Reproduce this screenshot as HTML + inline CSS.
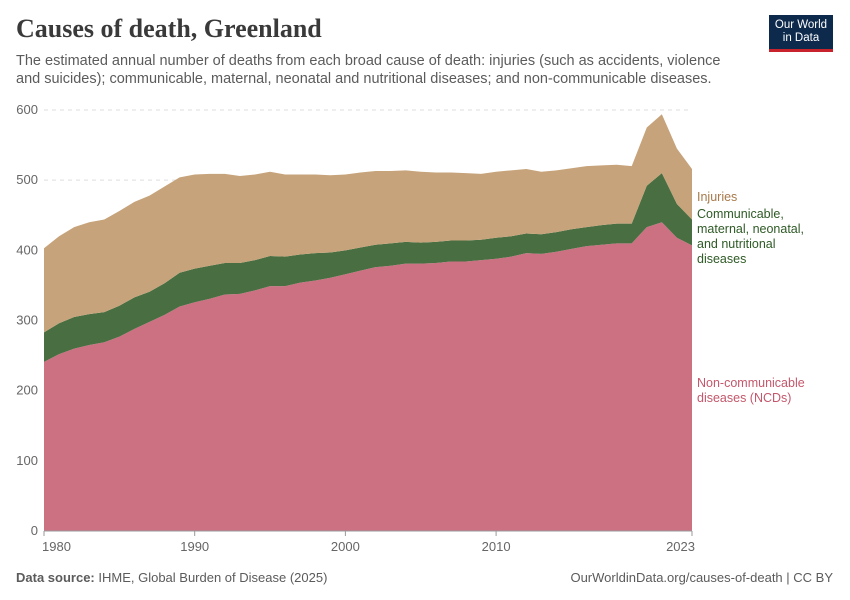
<!DOCTYPE html>
<html><head><meta charset="utf-8">
<style>
body{margin:0;background:#fff;font-family:"Liberation Sans",sans-serif;}
#wrap{position:relative;width:850px;height:600px;overflow:hidden;}
.title{position:absolute;left:16px;top:14px;font-family:"Liberation Serif",serif;font-size:26px;color:#3a3a3a;font-weight:bold;}
.sub{position:absolute;left:16px;top:52px;width:720px;font-size:14.5px;line-height:18px;color:#5b5b5b;}
.logo{position:absolute;left:769px;top:15px;width:64px;height:37px;background:#0d2a4d;color:#fff;font-size:11.5px;text-align:center;line-height:13px;padding-top:4px;box-sizing:border-box;border-bottom:3px solid #c8232c;}
.foot{position:absolute;top:570px;font-size:13px;color:#5b5b5b;}
</style></head><body>
<div id="wrap">
<div class="title">Causes of death, Greenland</div>
<div class="sub">The estimated annual number of deaths from each broad cause of death: injuries (such as accidents, violence and suicides); communicable, maternal, neonatal and nutritional diseases; and non-communicable diseases.</div>
<div class="logo">Our World<br>in Data</div>
<svg id="chart" width="850" height="600" style="position:absolute;left:0;top:0"></svg>
<div class="foot" style="left:16px"><b>Data source:</b> IHME, Global Burden of Disease (2025)</div>
<div class="foot" style="right:17px">OurWorldinData.org/causes-of-death | CC BY</div>
</div>
<script>
const years=[];for(let y=1980;y<=2023;y++)years.push(y);
const ncd=[241,252,260,265,269,277,288,298,308,320,326,331,337,338,343,349,349,354,357,361,366,371,376,378,381,381,382,384,384,386,388,391,396,395,398,402,406,408,410,410,433,440,418,407];
const comm=[42,44,45,44,43,44,45,43,45,48,48,47,45,44,43,43,42,40,39,36,34,33,32,32,31,30,30,30,30,29,30,29,28,28,28,28,27,28,28,28,59,70,48,37];
const inj=[120,124,128,131,132,135,136,137,138,136,134,131,127,124,122,120,117,114,112,110,108,107,105,103,102,101,99,97,96,94,94,94,92,89,88,87,87,85,84,82,83,84,79,72];
const yTicks=[0,100,200,300,400,500,600];
const xTicks=[1980,1990,2000,2010,2023];
const NS="http://www.w3.org/2000/svg";
const svg=document.getElementById('chart');
const x0=44,x1=692,yb=531,yt=110;
const X=y=>x0+(y-1980)*(x1-x0)/43;
const Y=v=>yb-v*(yb-yt)/600;
function mk(t,a){const e=document.createElementNS(NS,t);for(const k in a)e.setAttribute(k,a[k]);svg.appendChild(e);return e;}
yTicks.forEach(v=>{
  const l=mk('line',{x1:x0,x2:x1,y1:Y(v),y2:Y(v),stroke:'#ddd','stroke-dasharray':v?'4,4':'none'});
  
  
  const t=mk('text',{x:38,y:Y(v)+4,'text-anchor':'end','font-size':13,fill:'#666'});t.textContent=v;
  
  
});
const layers=[{d:ncd,c:'#cc7182',n:'area-ncds'},{d:comm,c:'#486e41',n:'area-communicable'},{d:inj,c:'#c6a37a',n:'area-injuries'}];
let base=years.map(()=>0);
layers.forEach(L=>{
  const top=base.map((b,i)=>b+L.d[i]);
  let p=years.map((y,i)=>(i?'L':'M')+X(y)+','+Y(top[i])).join('');
  for(let i=years.length-1;i>=0;i--)p+='L'+X(years[i])+','+Y(base[i]);
  const e=mk('path',{d:p+'Z',fill:L.c});
  
  
  base=top;
});
const ax=mk('line',{x1:x0,x2:x1,y1:yb,y2:yb,stroke:'#999'});


xTicks.forEach(y=>{
  const tk=mk('line',{x1:X(y),x2:X(y),y1:yb,y2:yb+5,stroke:'#999'});
  
  
  const t=mk('text',{x:X(y),y:551,'text-anchor':y===1980?'start':(y===2023?'end':'middle'),'font-size':13,fill:'#666'});t.textContent=y;
  if(y===1980)t.setAttribute('x',X(y)-2);
  if(y===2023)t.setAttribute('x',X(y)+3);
  
  
});
const labels=[{l:['Injuries'],y:201,c:'#a8794a',n:'legend-injuries'},{l:['Communicable,','maternal, neonatal,','and nutritional','diseases'],y:218,c:'#2e5a25',n:'legend-communicable'},{l:['Non-communicable','diseases (NCDs)'],y:387,c:'#c4576b',n:'legend-ncds'}];
labels.forEach(L=>{
  const t=mk('text',{x:697,y:L.y,'font-size':12.5,fill:L.c});
  
  
  L.l.forEach((s,i)=>{const ts=document.createElementNS(NS,'tspan');ts.setAttribute('x',697);ts.setAttribute('dy',i?15:0);ts.textContent=s;t.appendChild(ts);});
});
</script>
</body></html>
